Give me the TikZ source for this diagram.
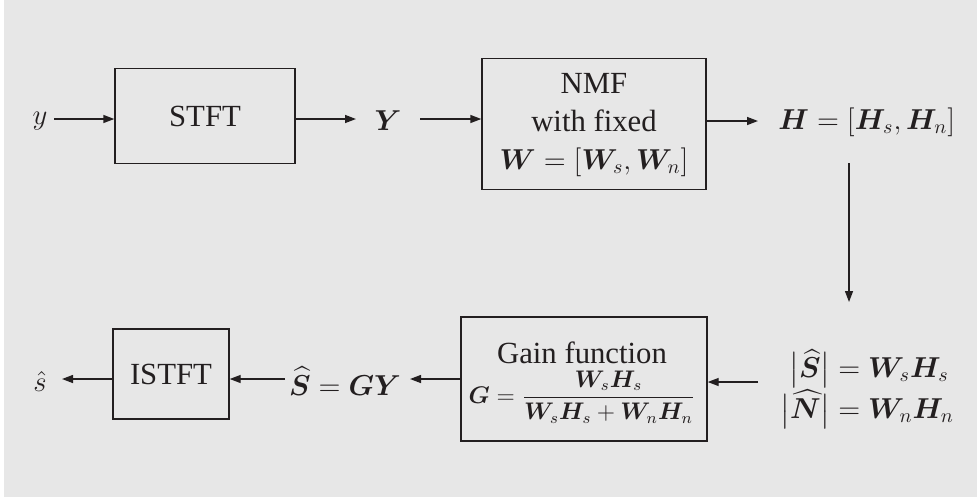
\documentclass[tikz,border=0pt]{standalone}
\usepackage{amsmath,bm}
\usepackage{fontspec}
\setmainfont[Scale=1.06]{Liberation Serif}
\usetikzlibrary{arrows.meta}
\definecolor{bg}{HTML}{E7E7E7}
\definecolor{ink}{HTML}{231F20}
\begin{document}
\begin{tikzpicture}[x=0.5pt,y=-0.5pt,
  every node/.style={font=\fontsize{14.5}{17}\selectfont, text=ink, inner sep=0pt, align=center},
  blk/.style={draw=ink, line width=0.7pt},
  conn/.style={draw=ink, line width=0.7pt, -{Triangle[length=5.5pt,width=4pt]}}]
\useasboundingbox (0,0) rectangle (977,499);
\fill[bg] (4,0) rectangle (977,497);
% top row
\node (y) at (40,121) {$y$};
\node[blk, minimum width=90pt, minimum height=47.5pt] (stft) at (205,116) {STFT};
\node (Y) at (388,121) {$\bm{Y}$};
\node[blk, minimum width=112pt, minimum height=65.5pt] (nmf) at (594,124) {};
\node (nmft) at (594,125) {NMF\\[2pt]with fixed\\[2pt]$\bm{W}=[\bm{W}_s,\bm{W}_n]$};
\node[anchor=west] (H) at (778,122) {$\bm{H}=[\bm{H}_s,\bm{H}_n]$};
% bottom row
\node[anchor=west] (SN) at (780,389) {$\begin{aligned}\bigl|\widehat{\bm S}\bigr|&=\bm{W}_s\bm{H}_s\\[-3pt] \bigl|\widehat{\bm N}\bigr|&=\bm{W}_n\bm{H}_n\end{aligned}$};
\node[blk, minimum width=123pt, minimum height=62pt] (gain) at (584,379) {};
\node (gaint) at (582,353) {Gain function};
\node (gainf) at (582,397) {\fontsize{12}{14}\selectfont$\bm{G}=\dfrac{\bm{W}_s\bm{H}_s}{\bm{W}_s\bm{H}_s+\bm{W}_n\bm{H}_n}$};
\node (S) at (345,381) {$\widehat{\bm S}=\bm{G}\bm{Y}$};
\node[blk, minimum width=58pt, minimum height=45pt] (istft) at (171,374) {ISTFT};
\node (s) at (40,381) {$\hat{s}$};
% connectors
\coordinate (hbot) at (849,163);
\coordinate (sntop) at (849,302);
\draw[conn] (54,119) -- (stft.west |- 0,119);
\draw[conn] (stft.east |- 0,119) -- (356,119);
\draw[conn] (420,119) -- (nmf.west |- 0,119);
\draw[conn] (nmf.east |- 0,121) -- (758,121);
\draw[conn] (hbot) -- (sntop);
\draw[conn] (758,382) -- (gain.east |- 0,382);
\draw[conn] (gain.west |- 0,379) -- (410,379);
\draw[conn] (285,379) -- (istft.east |- 0,379);
\draw[conn] (istft.west |- 0,379) -- (62,379);
\end{tikzpicture}
\end{document}
